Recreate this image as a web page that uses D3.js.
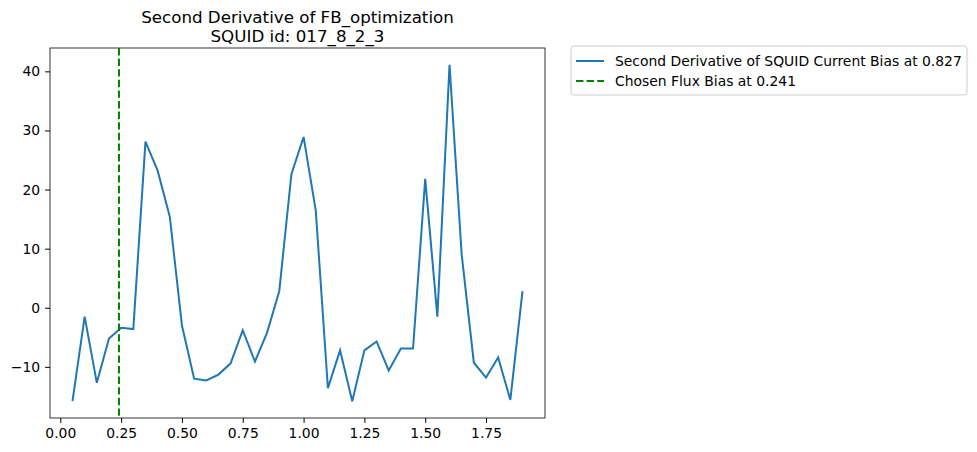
<!DOCTYPE html>
<html>
<head>
<meta charset="utf-8">
<style>
body { margin: 0; background: #fff; }
text { font-family: "DejaVu Sans", sans-serif; }
</style>
</head>
<body>
<svg width="977" height="452"></svg>
<script src="https://cdn.jsdelivr.net/npm/d3@7/dist/d3.min.js"></script>
<script>
var xs = d3.range(38).map(function(i) { return +(0.05 * (i + 1)).toFixed(2); });
var ys = [-15.8, -1.5, -12.7, -5.2, -3.4, -3.6, 28.1, 23.2, 15.4, -3.0,
          -12.0, -12.3, -11.3, -9.4, -3.8, -9.1, -4.2, 2.8, 22.6, 28.9,
          16.5, -13.6, -7.2, -15.8, -7.2, -5.7, -10.6, -6.9, -6.9, 21.8,
          -1.5, 41.1, 9.0, -9.3, -11.8, -8.4, -15.6, 2.8];
var chosenFlux = 0.241;
var xTicks = [0, 0.25, 0.5, 0.75, 1.0, 1.25, 1.5, 1.75];
var yTicks = [-10, 0, 10, 20, 30, 40];
var legendLabels = ["Second Derivative of SQUID Current Bias at 0.827", "Chosen Flux Bias at 0.241"];

var svg = d3.select("svg");
var L = 50, R = 545, T = 48, B = 418;
var x = d3.scaleLinear().domain([-0.0425, 1.9925]).range([L, R]);
var y = d3.scaleLinear().domain([-18.65, 43.95]).range([B, T]);

svg.append("g").attr("transform", "translate(0," + B + ")")
  .call(d3.axisBottom(x).tickValues(xTicks).tickFormat(d3.format(".2f")).tickSizeOuter(0).tickSize(4.9).tickPadding(5));
svg.append("g").attr("transform", "translate(" + L + ",0)")
  .call(d3.axisLeft(y).tickValues(yTicks).tickFormat(function(d) { return d < 0 ? "\u2212" + (-d) : d; }).tickSizeOuter(0).tickSize(4.9).tickPadding(5));
svg.selectAll(".tick text").attr("font-size", 13.9).attr("fill", "#000");
svg.selectAll(".domain").remove();
svg.append("rect").attr("x", L).attr("y", T).attr("width", R - L).attr("height", B - T)
  .attr("fill", "none").attr("stroke", "#000").attr("stroke-width", 0.8);

svg.append("path").datum(xs.map(function(d, i) { return [d, ys[i]]; }))
  .attr("d", d3.line().x(function(d) { return x(d[0]); }).y(function(d) { return y(d[1]); }))
  .attr("fill", "none").attr("stroke", "#1f77b4").attr("stroke-width", 2);

svg.append("line").attr("x1", x(chosenFlux)).attr("x2", x(chosenFlux)).attr("y1", T).attr("y2", B)
  .attr("stroke", "green").attr("stroke-width", 2).attr("stroke-dasharray", "7.4,3.2");

svg.append("text").attr("x", (L + R) / 2).attr("y", 23).attr("text-anchor", "middle").attr("font-size", 16.7)
  .text("Second Derivative of FB_optimization");
svg.append("text").attr("x", (L + R) / 2).attr("y", 42).attr("text-anchor", "middle").attr("font-size", 16.7)
  .text("SQUID id: 017_8_2_3");

var lg = svg.append("g");
lg.append("rect").attr("x", 571).attr("y", 46).attr("width", 396).attr("height", 49).attr("rx", 3)
  .attr("fill", "#fff").attr("stroke", "#ccc");
legendLabels.forEach(function(t, i) {
  var yy = 61 + i * 20;
  lg.append("line").attr("x1", 576).attr("x2", 604).attr("y1", yy).attr("y2", yy)
    .attr("stroke", i ? "green" : "#1f77b4").attr("stroke-width", 2)
    .attr("stroke-dasharray", i ? "7.4,3.2" : null);
  lg.append("text").attr("x", 615).attr("y", yy + 5).attr("font-size", 13.9).text(t);
});
</script>
</body>
</html>
